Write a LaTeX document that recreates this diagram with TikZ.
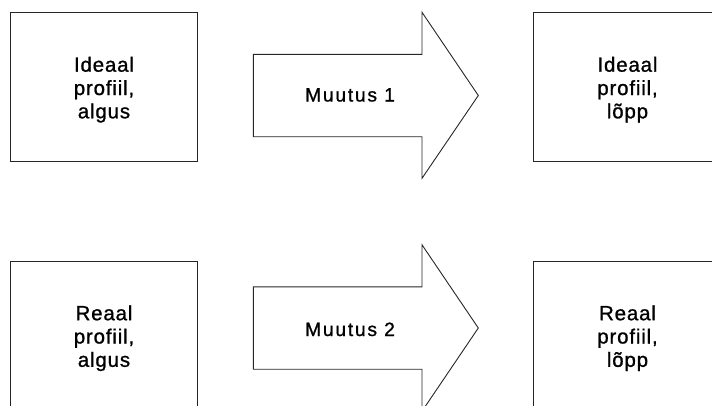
\documentclass[tikz,border=0pt]{standalone}
\usepackage{fontspec}
\setmainfont{Liberation Sans}[LetterSpace=4,FakeBold=1]
\begin{document}
\begin{tikzpicture}[x=1pt,y=-1pt,
  outline/.style={draw=black!85,line width=0.9pt,line join=miter},
  boxtext/.style={inner sep=0pt,align=center,
    font=\fontsize{20.5}{23.3}\selectfont},
  arrowtext/.style={inner sep=0pt,anchor=base,
    font=\fontsize{19.3}{21}\selectfont\addfontfeature{LetterSpace=9}}]
  \useasboundingbox (0,0) rectangle (712,405);
  \clip (0,0) rectangle (712,405);

  % top row
  \draw[outline] (10,12.3) rectangle (197.7,161.7);
  \node[boxtext] (ia) at (104,89.7) {Ideaal\\profiil,\\algus};
  \draw[outline] (253.3,54.3) -- (422,54.3) -- (422,12.3) -- (478.3,95.5)
    -- (422,178.3) -- (422,136.7) -- (253.3,136.7) -- cycle;
  \node[arrowtext] (m1) at (350,101.5) {Muutus 1};
  \draw[outline] (533.3,12.3) rectangle (721,161.7);
  \node[boxtext] (il) at (627.5,89.7) {Ideaal\\profiil,\\lõpp};

  % bottom row
  \draw[outline] (10,261.7) rectangle (197.7,420);
  \node[boxtext] (ra) at (104,338.2) {Reaal\\profiil,\\algus};
  \draw[outline] (253.3,286.8) -- (422,286.8) -- (422,244.8) -- (478.3,328)
    -- (422,411.2) -- (422,369.2) -- (253.3,369.2) -- cycle;
  \node[arrowtext] (m2) at (350,336) {Muutus 2};
  \draw[outline] (533.3,261.7) rectangle (721,420);
  \node[boxtext] (rl) at (627.5,338.2) {Reaal\\profiil,\\lõpp};
\end{tikzpicture}
\end{document}
